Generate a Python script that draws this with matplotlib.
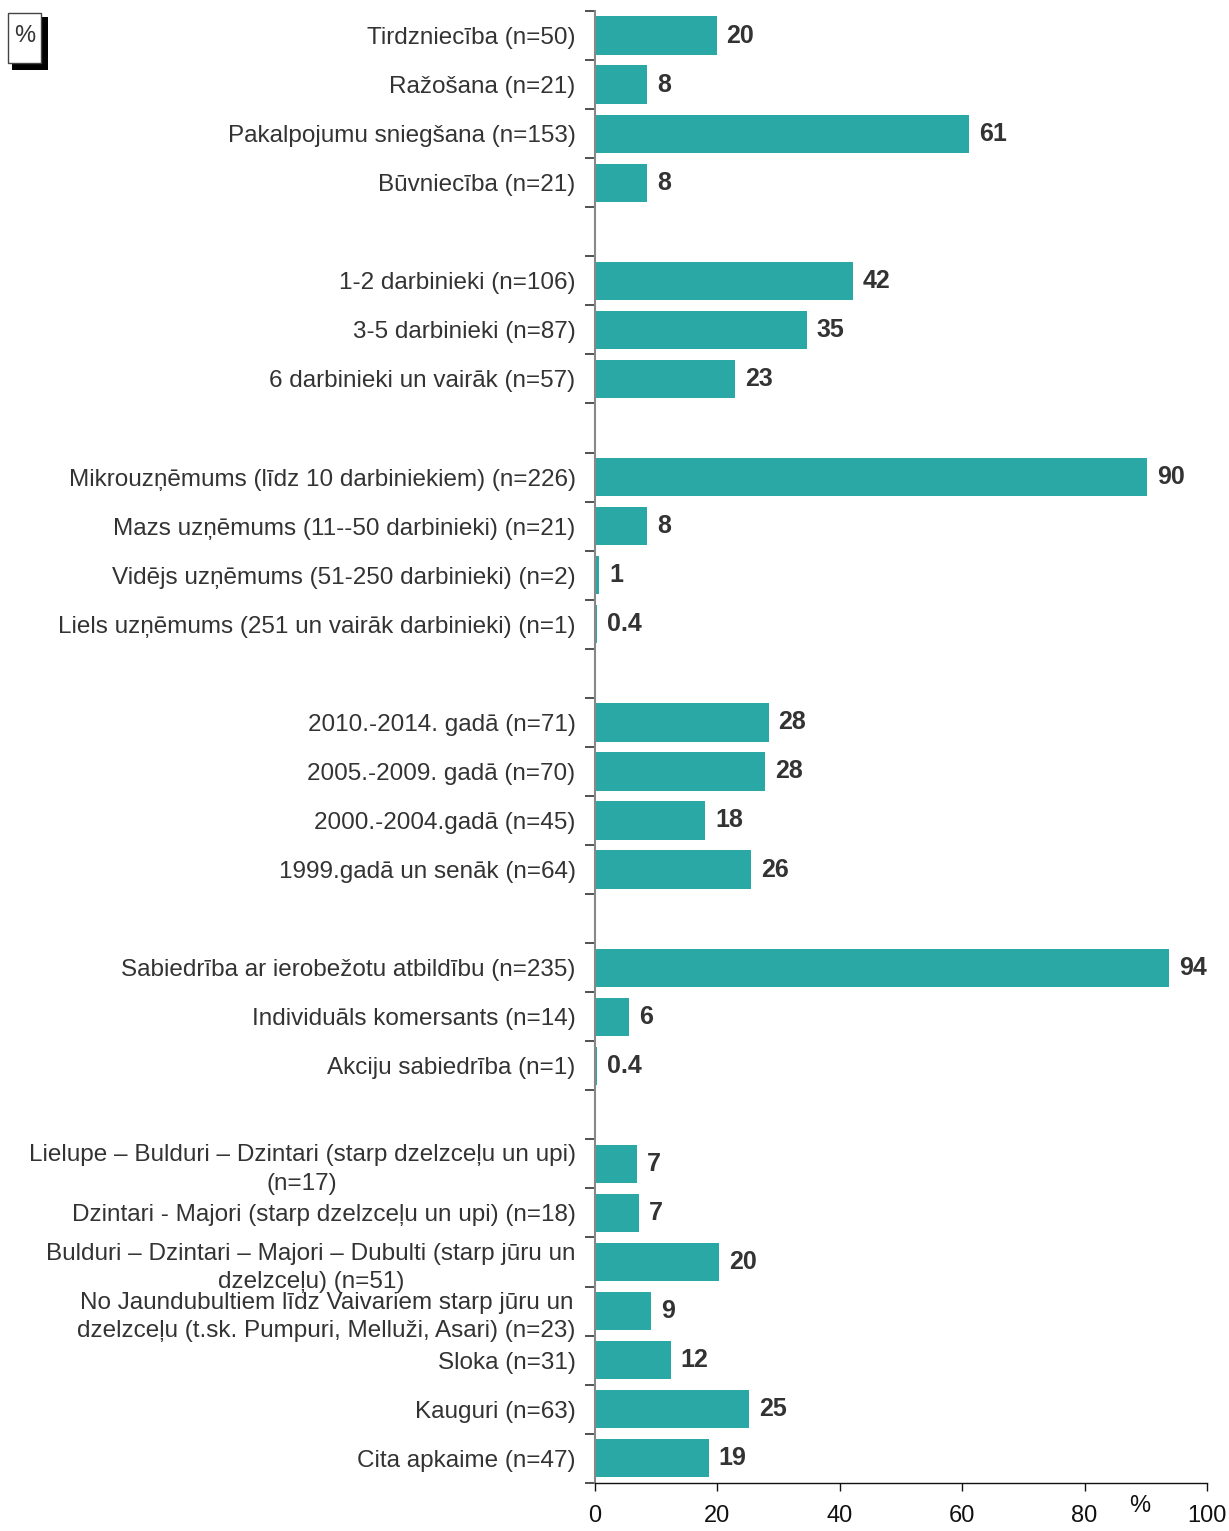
import matplotlib.pyplot as plt
from matplotlib.patches import Rectangle
from matplotlib import font_manager

plt.rcParams['font.family'] = ['Liberation Sans', 'DejaVu Sans']

# groups of categories (top to bottom), one empty slot between groups
nozare = ["Tirdzniecība (n=50)", "Ražošana (n=21)",
          "Pakalpojumu sniegšana (n=153)", "Būvniecība (n=21)"]
nozare_vals = [19.9, 8.5, 61.1, 8.5]
nozare_lbl = ["20", "8", "61", "8"]

darbinieki = ["1-2 darbinieki (n=106)", "3-5 darbinieki (n=87)",
              "6 darbinieki un vairāk (n=57)"]
darbinieki_vals = [42.2, 34.6, 22.9]
darbinieki_lbl = ["42", "35", "23"]

lielums = ["Mikrouzņēmums (līdz 10 darbiniekiem) (n=226)",
           "Mazs uzņēmums (11--50 darbinieki) (n=21)",
           "Vidējs uzņēmums (51-250 darbinieki) (n=2)",
           "Liels uzņēmums (251 un vairāk darbinieki) (n=1)"]
lielums_vals = [90.2, 8.5, 0.7, 0.4]
lielums_lbl = ["90", "8", "1", "0.4"]

gads = ["2010.-2014. gadā (n=71)", "2005.-2009. gadā (n=70)",
        "2000.-2004.gadā (n=45)", "1999.gadā un senāk (n=64)"]
gads_vals = [28.4, 27.8, 18.0, 25.5]
gads_lbl = ["28", "28", "18", "26"]

forma = ["Sabiedrība ar ierobežotu atbildību (n=235)",
         "Individuāls komersants (n=14)", "Akciju sabiedrība (n=1)"]
forma_vals = [93.8, 5.6, 0.4]
forma_lbl = ["94", "6", "0.4"]

apkaime = ["Lielupe – Bulduri – Dzintari (starp dzelzceļu un upi)\n(n=17)",
           "Dzintari - Majori (starp dzelzceļu un upi) (n=18)",
           "Bulduri – Dzintari – Majori – Dubulti (starp jūru un\ndzelzceļu) (n=51)",
           "No Jaundubultiem līdz Vaivariem starp jūru un\ndzelzceļu (t.sk. Pumpuri, Melluži, Asari) (n=23)",
           "Sloka (n=31)", "Kauguri (n=63)", "Cita apkaime (n=47)"]
apkaime_vals = [6.9, 7.2, 20.3, 9.2, 12.4, 25.2, 18.6]
apkaime_lbl = ["7", "7", "20", "9", "12", "25", "19"]

groups = [(nozare, nozare_vals, nozare_lbl),
          (darbinieki, darbinieki_vals, darbinieki_lbl),
          (lielums, lielums_vals, lielums_lbl),
          (gads, gads_vals, gads_lbl),
          (forma, forma_vals, forma_lbl),
          (apkaime, apkaime_vals, apkaime_lbl)]

x_ticks = [0, 20, 40, 60, 80, 100]

names, vals, lbls, pos = [], [], [], []
slot = 0
for g_names, g_vals, g_lbls in groups:
    for n, v, l in zip(g_names, g_vals, g_lbls):
        names.append(n)
        vals.append(v)
        lbls.append(l)
        pos.append(slot)
        slot += 1
    slot += 1
n_slots = slot - 1

narrow = 'Liberation Sans Narrow'
try:
    font_manager.findfont(narrow, fallback_to_default=False)
except Exception:
    narrow = 'Liberation Sans'

fig = plt.figure(figsize=(12.29, 15.31), dpi=100)
ax = fig.add_axes([0.4841, 0.0315, 0.498, 0.9613])

color = '#2AA8A6'
ax.barh(pos, vals, height=0.78, color=color)
for p, v, l in zip(pos, vals, lbls):
    ax.text(v + 1.6, p, l, va='center', ha='left', fontsize=18,
            fontweight='bold', color='#333333')

ax.set_ylim(n_slots - 0.5, -0.5)
ax.set_xlim(0, 100)
ax.set_yticks(pos)
ax.set_yticklabels(names, fontsize=17.5, color='#333333', linespacing=1.4)
for t in ax.get_yticklabels():
    t.set_multialignment('center')
ax.set_yticks([b - 0.5 for b in range(n_slots + 1)], minor=True)
ax.tick_params(axis='y', which='major', length=0, pad=14)
ax.tick_params(axis='y', which='minor', length=7, width=1.2, color='#333333')

ax.set_xticks(x_ticks)
ax.set_xticklabels([str(t) for t in x_ticks], fontsize=17, family=narrow,
                   color='#111111')
ax.tick_params(axis='x', length=6, width=1.0, pad=10, color='#111111')

for s in ['top', 'right']:
    ax.spines[s].set_visible(False)
ax.spines['left'].set_color('#888888')
ax.spines['left'].set_linewidth(1.5)
ax.spines['bottom'].set_color('#111111')
ax.spines['bottom'].set_linewidth(1.0)

fig.text(1140 / 1229, 1 - 1506 / 1531, '%', fontsize=17, family=narrow,
         ha='center', va='center', color='#111111')

# boxed "%" with shadow in the top-left corner
W, H = 1229, 1531
fig.patches.append(Rectangle((12 / W, 1 - 70 / H), 36 / W, 53 / H,
                             transform=fig.transFigure, facecolor='black',
                             edgecolor='none'))
fig.patches.append(Rectangle((8 / W, 1 - 63 / H), 33 / W, 50 / H,
                             transform=fig.transFigure, facecolor='white',
                             edgecolor='#444444', linewidth=1.0))
fig.text(24.5 / W, 1 - 36 / H, '%', fontsize=17, ha='center', va='center',
         color='#333333')

fig.savefig('out.png', dpi=100)
